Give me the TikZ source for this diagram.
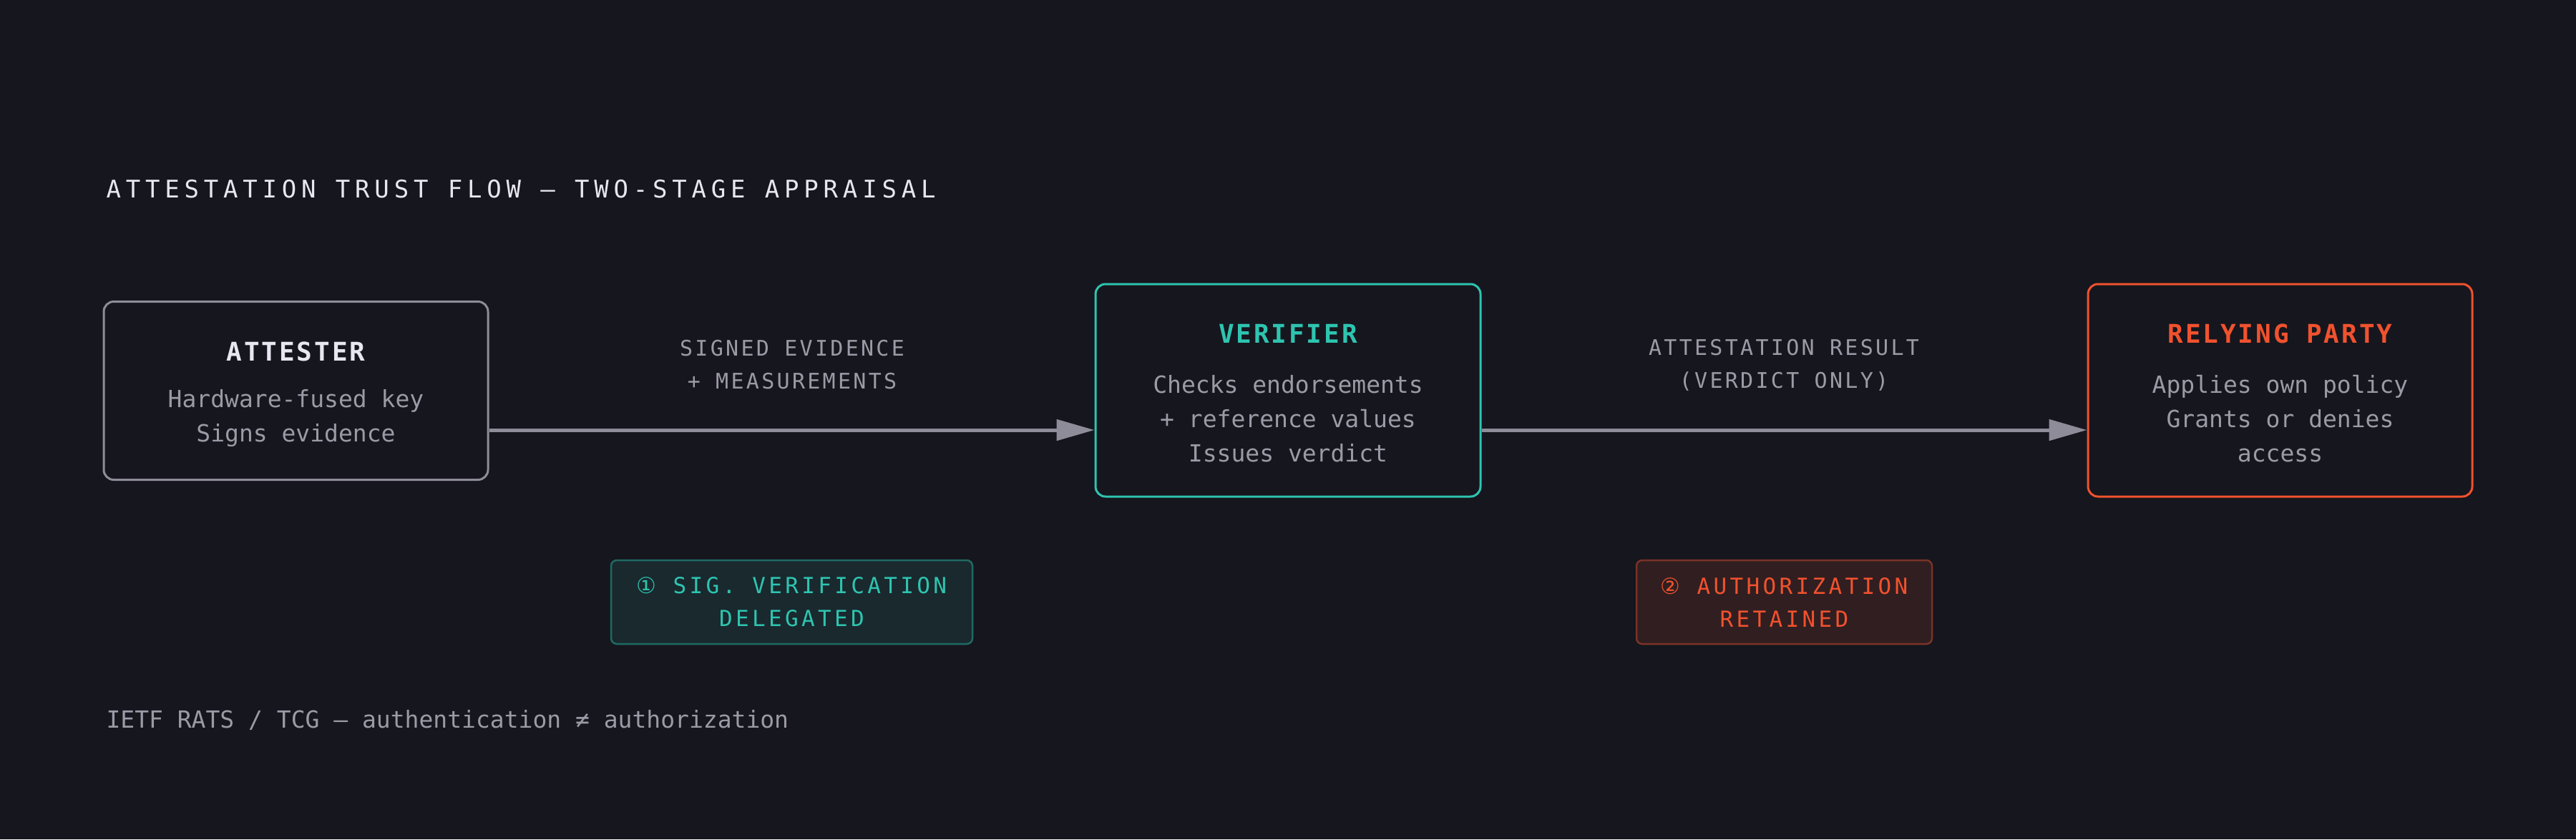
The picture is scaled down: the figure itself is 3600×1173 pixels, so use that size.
\documentclass[tikz,border=0pt]{standalone}
\usepackage{fontspec}
\setmonofont{DejaVu Sans Mono}
\newfontfamily\circfont{DejaVu Sans}
\usetikzlibrary{arrows.meta}
\definecolor{bg}{HTML}{16161E}
\definecolor{hd}{HTML}{E8E6F0}
\definecolor{tx}{HTML}{9C9AA6}
\definecolor{edge}{HTML}{8E8C98}
\definecolor{teal}{HTML}{2EC4B0}
\definecolor{org}{HTML}{F0522E}
\definecolor{b1f}{HTML}{19292E}
\definecolor{b1d}{HTML}{1F6A63}
\definecolor{b2f}{HTML}{311E20}
\definecolor{b2d}{HTML}{7A3326}
\newfontfamily\bodyf{DejaVu Sans Mono}
\newfontfamily\titlef[LetterSpace=20]{DejaVu Sans Mono}
\newfontfamily\lblf[LetterSpace=11]{DejaVu Sans Mono}
\newfontfamily\headf[LetterSpace=8]{DejaVu Sans Mono}
\newfontfamily\badgef[LetterSpace=14]{DejaVu Sans Mono}
\begin{document}
\begin{tikzpicture}[x=1pt,y=-1pt,
  box/.style={draw, line width=3pt, rounded corners=14pt, fill=bg},
  head/.style={font=\headf\bfseries\fontsize{36}{40}\selectfont},
  body/.style={text=tx, align=center, font=\bodyf\fontsize{33}{48}\selectfont},
  lbl/.style={text=tx, align=center, font=\lblf\fontsize{30}{46}\selectfont},
  badge/.style={draw, line width=2.5pt, rounded corners=8pt, align=center, font=\badgef\fontsize{31}{46}\selectfont},
  conn/.style={draw=edge, line width=5pt, -{Triangle[length=53pt,width=29pt]}}]
\fill[bg] (0,0) rectangle (3600,1173);
\useasboundingbox (0,0) rectangle (3600,1173);
\node[anchor=west, text=hd, font=\titlef\fontsize{34}{40}\selectfont] (title) at (145,264) {ATTESTATION TRUST FLOW — TWO-STAGE APPRAISAL};
% boxes
\node[box, draw=edge, minimum width=537pt, minimum height=249pt] (att) at (413.5,546) {};
\node[box, draw=teal, minimum width=538pt, minimum height=297pt] (ver) at (1800,545.5) {};
\node[box, draw=org, minimum width=537pt, minimum height=297pt] (rp) at (3186.5,545.5) {};
\node[head, text=hd] (attT) at (413.5,491) {ATTESTER};
\node[body] (attB) at (413.5,584) {Hardware-fused key\\Signs evidence};
\node[head, text=teal] (verT) at (1800,466) {VERIFIER};
\node[body] (verB) at (1800,585) {Checks endorsements\\+ reference values\\Issues verdict};
\node[head, text=org] (rpT) at (3186.5,466) {RELYING PARTY};
\node[body] (rpB) at (3186.5,585) {Applies own policy\\Grants or denies\\access};
% connectors
\coordinate (a1) at (att.east |- 0,601);
\coordinate (v1) at (ver.west |- 0,601);
\coordinate (v2) at (ver.east |- 0,601);
\coordinate (r1) at (rp.west |- 0,601);
\path[conn] (a1) -- (v1);
\path[conn] (v2) -- (r1);
\node[lbl] (l1) at (1107,510) {SIGNED EVIDENCE\\+ MEASUREMENTS};
\node[lbl] (l2) at (2493,510) {ATTESTATION RESULT\\(VERDICT ONLY)};
% badges
\node[badge, draw=b1d, fill=b1f, text=teal, minimum width=505pt, minimum height=117pt] (bd1) at (1106.5,841.5) {{\circfont ①} SIG. VERIFICATION\\DELEGATED};
\node[badge, draw=b2d, fill=b2f, text=org, minimum width=413pt, minimum height=117pt] (bd2) at (2493.5,841.5) {{\circfont ②} AUTHORIZATION\\RETAINED};
\node[anchor=west, text=tx, font=\bodyf\fontsize{33}{40}\selectfont] (foot) at (145,1006) {IETF RATS / TCG — authentication ≠ authorization};
\end{tikzpicture}
\end{document}
